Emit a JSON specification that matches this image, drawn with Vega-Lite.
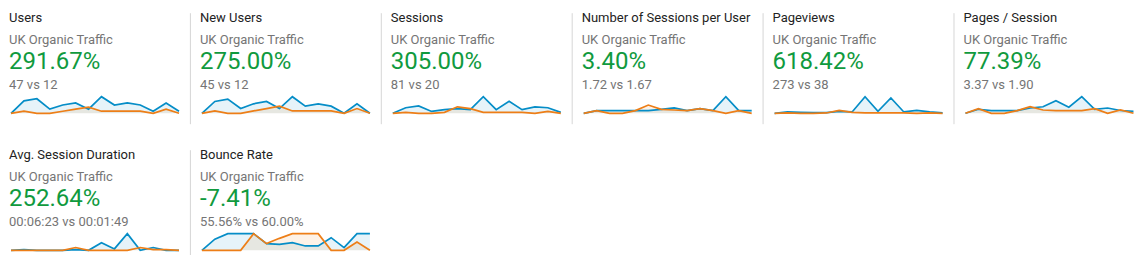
{
  "$schema": "https://vega.github.io/schema/vega-lite/v6.json",
  "background": "white",
  "padding": {"left": 7, "top": 11.7, "right": 0, "bottom": 0},
  "config": {"view": {"stroke": null}, "font": "Roboto"},
  "columns": 6,
  "spacing": {"row": 26, "column": 22.9},
  "bounds": "flush",
  "datasets": {
    "text": [
      {"card": "Users", "line": "title", "text": "Users"},
      {"card": "Users", "line": "segment", "text": "UK Organic Traffic"},
      {"card": "Users", "line": "change", "text": "291.67%"},
      {"card": "Users", "line": "comparison", "text": "47 vs 12"},
      {"card": "New Users", "line": "title", "text": "New Users"},
      {"card": "New Users", "line": "segment", "text": "UK Organic Traffic"},
      {"card": "New Users", "line": "change", "text": "275.00%"},
      {"card": "New Users", "line": "comparison", "text": "45 vs 12"},
      {"card": "Sessions", "line": "title", "text": "Sessions"},
      {"card": "Sessions", "line": "segment", "text": "UK Organic Traffic"},
      {"card": "Sessions", "line": "change", "text": "305.00%"},
      {"card": "Sessions", "line": "comparison", "text": "81 vs 20"},
      {"card": "Sessions per User", "line": "title", "text": "Number of Sessions per User"},
      {"card": "Sessions per User", "line": "segment", "text": "UK Organic Traffic"},
      {"card": "Sessions per User", "line": "change", "text": "3.40%"},
      {"card": "Sessions per User", "line": "comparison", "text": "1.72 vs 1.67"},
      {"card": "Pageviews", "line": "title", "text": "Pageviews"},
      {"card": "Pageviews", "line": "segment", "text": "UK Organic Traffic"},
      {"card": "Pageviews", "line": "change", "text": "618.42%"},
      {"card": "Pageviews", "line": "comparison", "text": "273 vs 38"},
      {"card": "Pages / Session", "line": "title", "text": "Pages / Session"},
      {"card": "Pages / Session", "line": "segment", "text": "UK Organic Traffic"},
      {"card": "Pages / Session", "line": "change", "text": "77.39%"},
      {"card": "Pages / Session", "line": "comparison", "text": "3.37 vs 1.90"},
      {"card": "Avg. Session Duration", "line": "title", "text": "Avg. Session Duration"},
      {"card": "Avg. Session Duration", "line": "segment", "text": "UK Organic Traffic"},
      {"card": "Avg. Session Duration", "line": "change", "text": "252.64%"},
      {"card": "Avg. Session Duration", "line": "comparison", "text": "00:06:23 vs 00:01:49"},
      {"card": "Bounce Rate", "line": "title", "text": "Bounce Rate"},
      {"card": "Bounce Rate", "line": "segment", "text": "UK Organic Traffic"},
      {"card": "Bounce Rate", "line": "change", "text": "-7.41%"},
      {"card": "Bounce Rate", "line": "comparison", "text": "55.56% vs 60.00%"}
    ],
    "series": [
      {"card": "Users", "day": 1, "current": 0, "previous": 0},
      {"card": "Users", "day": 2, "current": 6, "previous": 1},
      {"card": "Users", "day": 3, "current": 7, "previous": 0},
      {"card": "Users", "day": 4, "current": 2, "previous": 0},
      {"card": "Users", "day": 5, "current": 4, "previous": 1},
      {"card": "Users", "day": 6, "current": 5, "previous": 2},
      {"card": "Users", "day": 7, "current": 2, "previous": 3},
      {"card": "Users", "day": 8, "current": 8, "previous": 1},
      {"card": "Users", "day": 9, "current": 4, "previous": 1},
      {"card": "Users", "day": 10, "current": 5, "previous": 1},
      {"card": "Users", "day": 11, "current": 4, "previous": 1},
      {"card": "Users", "day": 12, "current": 1, "previous": 0},
      {"card": "Users", "day": 13, "current": 5, "previous": 2},
      {"card": "Users", "day": 14, "current": 1, "previous": 0},
      {"card": "New Users", "day": 1, "current": 0, "previous": 0},
      {"card": "New Users", "day": 2, "current": 5, "previous": 1},
      {"card": "New Users", "day": 3, "current": 6, "previous": 0},
      {"card": "New Users", "day": 4, "current": 2, "previous": 0},
      {"card": "New Users", "day": 5, "current": 4, "previous": 1},
      {"card": "New Users", "day": 6, "current": 5, "previous": 2},
      {"card": "New Users", "day": 7, "current": 2, "previous": 3},
      {"card": "New Users", "day": 8, "current": 7, "previous": 1},
      {"card": "New Users", "day": 9, "current": 3, "previous": 1},
      {"card": "New Users", "day": 10, "current": 4, "previous": 1},
      {"card": "New Users", "day": 11, "current": 3, "previous": 1},
      {"card": "New Users", "day": 12, "current": 0, "previous": 0},
      {"card": "New Users", "day": 13, "current": 4, "previous": 2},
      {"card": "New Users", "day": 14, "current": 0, "previous": 0},
      {"card": "Sessions", "day": 1, "current": 0, "previous": 0},
      {"card": "Sessions", "day": 2, "current": 6, "previous": 1},
      {"card": "Sessions", "day": 3, "current": 8, "previous": 0},
      {"card": "Sessions", "day": 4, "current": 2, "previous": 0},
      {"card": "Sessions", "day": 5, "current": 4, "previous": 1},
      {"card": "Sessions", "day": 6, "current": 5, "previous": 7},
      {"card": "Sessions", "day": 7, "current": 4, "previous": 5},
      {"card": "Sessions", "day": 8, "current": 18, "previous": 1},
      {"card": "Sessions", "day": 9, "current": 4, "previous": 1},
      {"card": "Sessions", "day": 10, "current": 13, "previous": 1},
      {"card": "Sessions", "day": 11, "current": 4, "previous": 1},
      {"card": "Sessions", "day": 12, "current": 7, "previous": 0},
      {"card": "Sessions", "day": 13, "current": 6, "previous": 2},
      {"card": "Sessions", "day": 14, "current": 1, "previous": 0},
      {"card": "Sessions per User", "day": 1, "current": 0, "previous": 0},
      {"card": "Sessions per User", "day": 2, "current": 1, "previous": 1},
      {"card": "Sessions per User", "day": 3, "current": 1, "previous": 0},
      {"card": "Sessions per User", "day": 4, "current": 1, "previous": 0},
      {"card": "Sessions per User", "day": 5, "current": 1, "previous": 1},
      {"card": "Sessions per User", "day": 6, "current": 1, "previous": 3.1},
      {"card": "Sessions per User", "day": 7, "current": 1.5, "previous": 1.5},
      {"card": "Sessions per User", "day": 8, "current": 2, "previous": 1.25},
      {"card": "Sessions per User", "day": 9, "current": 1, "previous": 1},
      {"card": "Sessions per User", "day": 10, "current": 1.75, "previous": 1.75},
      {"card": "Sessions per User", "day": 11, "current": 1, "previous": 1},
      {"card": "Sessions per User", "day": 12, "current": 6.25, "previous": 0},
      {"card": "Sessions per User", "day": 13, "current": 1, "previous": 1},
      {"card": "Sessions per User", "day": 14, "current": 1, "previous": 0},
      {"card": "Pageviews", "day": 1, "current": 0, "previous": 0},
      {"card": "Pageviews", "day": 2, "current": 8, "previous": 2},
      {"card": "Pageviews", "day": 3, "current": 6, "previous": 0},
      {"card": "Pageviews", "day": 4, "current": 4, "previous": 0},
      {"card": "Pageviews", "day": 5, "current": 4, "previous": 2},
      {"card": "Pageviews", "day": 6, "current": 12, "previous": 18},
      {"card": "Pageviews", "day": 7, "current": 8, "previous": 6},
      {"card": "Pageviews", "day": 8, "current": 100, "previous": 2},
      {"card": "Pageviews", "day": 9, "current": 12, "previous": 2},
      {"card": "Pageviews", "day": 10, "current": 92, "previous": 2},
      {"card": "Pageviews", "day": 11, "current": 8, "previous": 2},
      {"card": "Pageviews", "day": 12, "current": 18, "previous": 0},
      {"card": "Pageviews", "day": 13, "current": 8, "previous": 2},
      {"card": "Pageviews", "day": 14, "current": 2, "previous": 0},
      {"card": "Pages / Session", "day": 1, "current": 0, "previous": 0},
      {"card": "Pages / Session", "day": 2, "current": 1.6, "previous": 1.85},
      {"card": "Pages / Session", "day": 3, "current": 1.1, "previous": 0},
      {"card": "Pages / Session", "day": 4, "current": 1.1, "previous": 0},
      {"card": "Pages / Session", "day": 5, "current": 1.1, "previous": 1.06},
      {"card": "Pages / Session", "day": 6, "current": 2.1, "previous": 2.64},
      {"card": "Pages / Session", "day": 7, "current": 2.6, "previous": 1.32},
      {"card": "Pages / Session", "day": 8, "current": 5.0, "previous": 1.06},
      {"card": "Pages / Session", "day": 9, "current": 2.4, "previous": 1.06},
      {"card": "Pages / Session", "day": 10, "current": 6.6, "previous": 1.06},
      {"card": "Pages / Session", "day": 11, "current": 1.6, "previous": 1.85},
      {"card": "Pages / Session", "day": 12, "current": 2.1, "previous": 0},
      {"card": "Pages / Session", "day": 13, "current": 1.1, "previous": 1.32},
      {"card": "Pages / Session", "day": 14, "current": 0.8, "previous": 0},
      {"card": "Avg. Session Duration", "day": 1, "current": 0, "previous": 0},
      {"card": "Avg. Session Duration", "day": 2, "current": 62, "previous": 0},
      {"card": "Avg. Session Duration", "day": 3, "current": 0, "previous": 0},
      {"card": "Avg. Session Duration", "day": 4, "current": 0, "previous": 0},
      {"card": "Avg. Session Duration", "day": 5, "current": 0, "previous": 0},
      {"card": "Avg. Session Duration", "day": 6, "current": 62, "previous": 250},
      {"card": "Avg. Session Duration", "day": 7, "current": 0, "previous": 0},
      {"card": "Avg. Session Duration", "day": 8, "current": 686, "previous": 0},
      {"card": "Avg. Session Duration", "day": 9, "current": 125, "previous": 0},
      {"card": "Avg. Session Duration", "day": 10, "current": 1498, "previous": 0},
      {"card": "Avg. Session Duration", "day": 11, "current": 0, "previous": 250},
      {"card": "Avg. Session Duration", "day": 12, "current": 250, "previous": 62},
      {"card": "Avg. Session Duration", "day": 13, "current": 0, "previous": 62},
      {"card": "Avg. Session Duration", "day": 14, "current": 0, "previous": 0},
      {"card": "Bounce Rate", "day": 1, "current": 0, "previous": 0},
      {"card": "Bounce Rate", "day": 2, "current": 66.67, "previous": 0},
      {"card": "Bounce Rate", "day": 3, "current": 100, "previous": 0},
      {"card": "Bounce Rate", "day": 4, "current": 100, "previous": 0},
      {"card": "Bounce Rate", "day": 5, "current": 100, "previous": 100},
      {"card": "Bounce Rate", "day": 6, "current": 40, "previous": 40},
      {"card": "Bounce Rate", "day": 7, "current": 36, "previous": 72},
      {"card": "Bounce Rate", "day": 8, "current": 46, "previous": 100},
      {"card": "Bounce Rate", "day": 9, "current": 26, "previous": 100},
      {"card": "Bounce Rate", "day": 10, "current": 26, "previous": 100},
      {"card": "Bounce Rate", "day": 11, "current": 76, "previous": 0},
      {"card": "Bounce Rate", "day": 12, "current": 16, "previous": 0},
      {"card": "Bounce Rate", "day": 13, "current": 100, "previous": 50},
      {"card": "Bounce Rate", "day": 14, "current": 100, "previous": 0}
    ]
  },
  "concat": [
    {
      "width": 168, "height": 111,
      "layer": [
        {
          "data": {"name": "text"},
          "transform": [{"filter": {"field": "card", "equal": "Users"}}],
          "layer": [
            {
              "transform": [{"filter": {"field": "line", "oneOf": ["title", "segment", "comparison"]}}],
              "mark": {"type": "text", "align": "left", "baseline": "alphabetic", "dx": -2, "fontSize": 13},
              "encoding": {
                "x": {"datum": 1, "type": "quantitative", "scale": {"domain": [1, 14], "nice": false, "zero": false}, "axis": null},
                "y": {"field": "line", "type": "nominal", "scale": {"domain": ["title", "segment", "change", "comparison"], "padding": 1.0899, "align": 0.2141, "round": false}, "axis": null},
                "text": {"field": "text"},
                "color": {"field": "line", "type": "nominal", "scale": {"domain": ["title", "segment", "comparison"], "range": ["#222222", "#757575", "#757575"]}, "legend": null}
              }
            },
            {
              "transform": [{"filter": {"field": "line", "equal": "change"}}],
              "mark": {"type": "text", "align": "left", "baseline": "alphabetic", "dx": -2, "dy": 2.1, "fontSize": 24, "color": "#109a3e"},
              "encoding": {
                "x": {"datum": 1, "type": "quantitative", "scale": {"domain": [1, 14], "nice": false, "zero": false}, "axis": null},
                "y": {"field": "line", "type": "nominal", "axis": null},
                "text": {"field": "text"}
              }
            }
          ]
        },
        {
          "data": {"name": "series"},
          "transform": [{"filter": {"field": "card", "equal": "Users"}}],
          "encoding": {"x": {"field": "day", "type": "quantitative", "scale": {"domain": [1, 14], "nice": false, "zero": false}, "axis": null}},
          "layer": [
            {"mark": {"type": "area", "color": "#058dc7", "opacity": 0.1}, "encoding": {"y": {"field": "current", "type": "quantitative", "scale": {"range": [100.6, 84], "nice": false, "zero": true}, "axis": null}}},
            {"mark": {"type": "area", "color": "#ed7e17", "opacity": 0.1}, "encoding": {"y": {"field": "previous", "type": "quantitative", "axis": null}}},
            {"mark": {"type": "line", "color": "#058dc7", "strokeWidth": 1.7}, "encoding": {"y": {"field": "current", "type": "quantitative", "axis": null}}},
            {"mark": {"type": "line", "color": "#ed7e17", "strokeWidth": 1.7}, "encoding": {"y": {"field": "previous", "type": "quantitative", "axis": null}}}
          ]
        }
      ],
      "resolve": {"scale": {"y": "independent", "color": "independent"}, "axis": {"y": "independent"}}
    },
    {
      "width": 168, "height": 111,
      "layer": [
        {
          "data": {"name": "text"},
          "transform": [{"filter": {"field": "card", "equal": "New Users"}}],
          "layer": [
            {
              "transform": [{"filter": {"field": "line", "oneOf": ["title", "segment", "comparison"]}}],
              "mark": {"type": "text", "align": "left", "baseline": "alphabetic", "dx": -2, "fontSize": 13},
              "encoding": {
                "x": {"datum": 1, "type": "quantitative", "scale": {"domain": [1, 14], "nice": false, "zero": false}, "axis": null},
                "y": {"field": "line", "type": "nominal", "scale": {"domain": ["title", "segment", "change", "comparison"], "padding": 1.0899, "align": 0.2141, "round": false}, "axis": {"domain": true, "domainColor": "#d6d6d6", "domainWidth": 1, "ticks": false, "labels": false, "grid": false, "title": null, "offset": 12}},
                "text": {"field": "text"},
                "color": {"field": "line", "type": "nominal", "scale": {"domain": ["title", "segment", "comparison"], "range": ["#222222", "#757575", "#757575"]}, "legend": null}
              }
            },
            {
              "transform": [{"filter": {"field": "line", "equal": "change"}}],
              "mark": {"type": "text", "align": "left", "baseline": "alphabetic", "dx": -2, "dy": 2.1, "fontSize": 24, "color": "#109a3e"},
              "encoding": {
                "x": {"datum": 1, "type": "quantitative", "scale": {"domain": [1, 14], "nice": false, "zero": false}, "axis": null},
                "y": {"field": "line", "type": "nominal", "axis": {"domain": true, "domainColor": "#d6d6d6", "domainWidth": 1, "ticks": false, "labels": false, "grid": false, "title": null, "offset": 12}},
                "text": {"field": "text"}
              }
            }
          ]
        },
        {
          "data": {"name": "series"},
          "transform": [{"filter": {"field": "card", "equal": "New Users"}}],
          "encoding": {"x": {"field": "day", "type": "quantitative", "scale": {"domain": [1, 14], "nice": false, "zero": false}, "axis": null}},
          "layer": [
            {"mark": {"type": "area", "color": "#058dc7", "opacity": 0.1}, "encoding": {"y": {"field": "current", "type": "quantitative", "scale": {"range": [100.6, 84], "nice": false, "zero": true}, "axis": null}}},
            {"mark": {"type": "area", "color": "#ed7e17", "opacity": 0.1}, "encoding": {"y": {"field": "previous", "type": "quantitative", "axis": null}}},
            {"mark": {"type": "line", "color": "#058dc7", "strokeWidth": 1.7}, "encoding": {"y": {"field": "current", "type": "quantitative", "axis": null}}},
            {"mark": {"type": "line", "color": "#ed7e17", "strokeWidth": 1.7}, "encoding": {"y": {"field": "previous", "type": "quantitative", "axis": null}}}
          ]
        }
      ],
      "resolve": {"scale": {"y": "independent", "color": "independent"}, "axis": {"y": "independent"}}
    },
    {
      "width": 168, "height": 111,
      "layer": [
        {
          "data": {"name": "text"},
          "transform": [{"filter": {"field": "card", "equal": "Sessions"}}],
          "layer": [
            {
              "transform": [{"filter": {"field": "line", "oneOf": ["title", "segment", "comparison"]}}],
              "mark": {"type": "text", "align": "left", "baseline": "alphabetic", "dx": -2, "fontSize": 13},
              "encoding": {
                "x": {"datum": 1, "type": "quantitative", "scale": {"domain": [1, 14], "nice": false, "zero": false}, "axis": null},
                "y": {"field": "line", "type": "nominal", "scale": {"domain": ["title", "segment", "change", "comparison"], "padding": 1.0899, "align": 0.2141, "round": false}, "axis": {"domain": true, "domainColor": "#d6d6d6", "domainWidth": 1, "ticks": false, "labels": false, "grid": false, "title": null, "offset": 12}},
                "text": {"field": "text"},
                "color": {"field": "line", "type": "nominal", "scale": {"domain": ["title", "segment", "comparison"], "range": ["#222222", "#757575", "#757575"]}, "legend": null}
              }
            },
            {
              "transform": [{"filter": {"field": "line", "equal": "change"}}],
              "mark": {"type": "text", "align": "left", "baseline": "alphabetic", "dx": -2, "dy": 2.1, "fontSize": 24, "color": "#109a3e"},
              "encoding": {
                "x": {"datum": 1, "type": "quantitative", "scale": {"domain": [1, 14], "nice": false, "zero": false}, "axis": null},
                "y": {"field": "line", "type": "nominal", "axis": {"domain": true, "domainColor": "#d6d6d6", "domainWidth": 1, "ticks": false, "labels": false, "grid": false, "title": null, "offset": 12}},
                "text": {"field": "text"}
              }
            }
          ]
        },
        {
          "data": {"name": "series"},
          "transform": [{"filter": {"field": "card", "equal": "Sessions"}}],
          "encoding": {"x": {"field": "day", "type": "quantitative", "scale": {"domain": [1, 14], "nice": false, "zero": false}, "axis": null}},
          "layer": [
            {"mark": {"type": "area", "color": "#058dc7", "opacity": 0.1}, "encoding": {"y": {"field": "current", "type": "quantitative", "scale": {"range": [100.6, 84], "nice": false, "zero": true}, "axis": null}}},
            {"mark": {"type": "area", "color": "#ed7e17", "opacity": 0.1}, "encoding": {"y": {"field": "previous", "type": "quantitative", "axis": null}}},
            {"mark": {"type": "line", "color": "#058dc7", "strokeWidth": 1.7}, "encoding": {"y": {"field": "current", "type": "quantitative", "axis": null}}},
            {"mark": {"type": "line", "color": "#ed7e17", "strokeWidth": 1.7}, "encoding": {"y": {"field": "previous", "type": "quantitative", "axis": null}}}
          ]
        }
      ],
      "resolve": {"scale": {"y": "independent", "color": "independent"}, "axis": {"y": "independent"}}
    },
    {
      "width": 168, "height": 111,
      "layer": [
        {
          "data": {"name": "text"},
          "transform": [{"filter": {"field": "card", "equal": "Sessions per User"}}],
          "layer": [
            {
              "transform": [{"filter": {"field": "line", "oneOf": ["title", "segment", "comparison"]}}],
              "mark": {"type": "text", "align": "left", "baseline": "alphabetic", "dx": -2, "fontSize": 13},
              "encoding": {
                "x": {"datum": 1, "type": "quantitative", "scale": {"domain": [1, 14], "nice": false, "zero": false}, "axis": null},
                "y": {"field": "line", "type": "nominal", "scale": {"domain": ["title", "segment", "change", "comparison"], "padding": 1.0899, "align": 0.2141, "round": false}, "axis": {"domain": true, "domainColor": "#d6d6d6", "domainWidth": 1, "ticks": false, "labels": false, "grid": false, "title": null, "offset": 12}},
                "text": {"field": "text"},
                "color": {"field": "line", "type": "nominal", "scale": {"domain": ["title", "segment", "comparison"], "range": ["#222222", "#757575", "#757575"]}, "legend": null}
              }
            },
            {
              "transform": [{"filter": {"field": "line", "equal": "change"}}],
              "mark": {"type": "text", "align": "left", "baseline": "alphabetic", "dx": -2, "dy": 2.1, "fontSize": 24, "color": "#109a3e"},
              "encoding": {
                "x": {"datum": 1, "type": "quantitative", "scale": {"domain": [1, 14], "nice": false, "zero": false}, "axis": null},
                "y": {"field": "line", "type": "nominal", "axis": {"domain": true, "domainColor": "#d6d6d6", "domainWidth": 1, "ticks": false, "labels": false, "grid": false, "title": null, "offset": 12}},
                "text": {"field": "text"}
              }
            }
          ]
        },
        {
          "data": {"name": "series"},
          "transform": [{"filter": {"field": "card", "equal": "Sessions per User"}}],
          "encoding": {"x": {"field": "day", "type": "quantitative", "scale": {"domain": [1, 14], "nice": false, "zero": false}, "axis": null}},
          "layer": [
            {"mark": {"type": "area", "color": "#058dc7", "opacity": 0.1}, "encoding": {"y": {"field": "current", "type": "quantitative", "scale": {"range": [100.6, 84], "nice": false, "zero": true}, "axis": null}}},
            {"mark": {"type": "area", "color": "#ed7e17", "opacity": 0.1}, "encoding": {"y": {"field": "previous", "type": "quantitative", "axis": null}}},
            {"mark": {"type": "line", "color": "#058dc7", "strokeWidth": 1.7}, "encoding": {"y": {"field": "current", "type": "quantitative", "axis": null}}},
            {"mark": {"type": "line", "color": "#ed7e17", "strokeWidth": 1.7}, "encoding": {"y": {"field": "previous", "type": "quantitative", "axis": null}}}
          ]
        }
      ],
      "resolve": {"scale": {"y": "independent", "color": "independent"}, "axis": {"y": "independent"}}
    },
    {
      "width": 168, "height": 111,
      "layer": [
        {
          "data": {"name": "text"},
          "transform": [{"filter": {"field": "card", "equal": "Pageviews"}}],
          "layer": [
            {
              "transform": [{"filter": {"field": "line", "oneOf": ["title", "segment", "comparison"]}}],
              "mark": {"type": "text", "align": "left", "baseline": "alphabetic", "dx": -2, "fontSize": 13},
              "encoding": {
                "x": {"datum": 1, "type": "quantitative", "scale": {"domain": [1, 14], "nice": false, "zero": false}, "axis": null},
                "y": {"field": "line", "type": "nominal", "scale": {"domain": ["title", "segment", "change", "comparison"], "padding": 1.0899, "align": 0.2141, "round": false}, "axis": {"domain": true, "domainColor": "#d6d6d6", "domainWidth": 1, "ticks": false, "labels": false, "grid": false, "title": null, "offset": 12}},
                "text": {"field": "text"},
                "color": {"field": "line", "type": "nominal", "scale": {"domain": ["title", "segment", "comparison"], "range": ["#222222", "#757575", "#757575"]}, "legend": null}
              }
            },
            {
              "transform": [{"filter": {"field": "line", "equal": "change"}}],
              "mark": {"type": "text", "align": "left", "baseline": "alphabetic", "dx": -2, "dy": 2.1, "fontSize": 24, "color": "#109a3e"},
              "encoding": {
                "x": {"datum": 1, "type": "quantitative", "scale": {"domain": [1, 14], "nice": false, "zero": false}, "axis": null},
                "y": {"field": "line", "type": "nominal", "axis": {"domain": true, "domainColor": "#d6d6d6", "domainWidth": 1, "ticks": false, "labels": false, "grid": false, "title": null, "offset": 12}},
                "text": {"field": "text"}
              }
            }
          ]
        },
        {
          "data": {"name": "series"},
          "transform": [{"filter": {"field": "card", "equal": "Pageviews"}}],
          "encoding": {"x": {"field": "day", "type": "quantitative", "scale": {"domain": [1, 14], "nice": false, "zero": false}, "axis": null}},
          "layer": [
            {"mark": {"type": "area", "color": "#058dc7", "opacity": 0.1}, "encoding": {"y": {"field": "current", "type": "quantitative", "scale": {"range": [100.6, 84], "nice": false, "zero": true}, "axis": null}}},
            {"mark": {"type": "area", "color": "#ed7e17", "opacity": 0.1}, "encoding": {"y": {"field": "previous", "type": "quantitative", "axis": null}}},
            {"mark": {"type": "line", "color": "#058dc7", "strokeWidth": 1.7}, "encoding": {"y": {"field": "current", "type": "quantitative", "axis": null}}},
            {"mark": {"type": "line", "color": "#ed7e17", "strokeWidth": 1.7}, "encoding": {"y": {"field": "previous", "type": "quantitative", "axis": null}}}
          ]
        }
      ],
      "resolve": {"scale": {"y": "independent", "color": "independent"}, "axis": {"y": "independent"}}
    },
    {
      "width": 168, "height": 111,
      "layer": [
        {
          "data": {"name": "text"},
          "transform": [{"filter": {"field": "card", "equal": "Pages / Session"}}],
          "layer": [
            {
              "transform": [{"filter": {"field": "line", "oneOf": ["title", "segment", "comparison"]}}],
              "mark": {"type": "text", "align": "left", "baseline": "alphabetic", "dx": -2, "fontSize": 13},
              "encoding": {
                "x": {"datum": 1, "type": "quantitative", "scale": {"domain": [1, 14], "nice": false, "zero": false}, "axis": null},
                "y": {"field": "line", "type": "nominal", "scale": {"domain": ["title", "segment", "change", "comparison"], "padding": 1.0899, "align": 0.2141, "round": false}, "axis": {"domain": true, "domainColor": "#d6d6d6", "domainWidth": 1, "ticks": false, "labels": false, "grid": false, "title": null, "offset": 12}},
                "text": {"field": "text"},
                "color": {"field": "line", "type": "nominal", "scale": {"domain": ["title", "segment", "comparison"], "range": ["#222222", "#757575", "#757575"]}, "legend": null}
              }
            },
            {
              "transform": [{"filter": {"field": "line", "equal": "change"}}],
              "mark": {"type": "text", "align": "left", "baseline": "alphabetic", "dx": -2, "dy": 2.1, "fontSize": 24, "color": "#109a3e"},
              "encoding": {
                "x": {"datum": 1, "type": "quantitative", "scale": {"domain": [1, 14], "nice": false, "zero": false}, "axis": null},
                "y": {"field": "line", "type": "nominal", "axis": {"domain": true, "domainColor": "#d6d6d6", "domainWidth": 1, "ticks": false, "labels": false, "grid": false, "title": null, "offset": 12}},
                "text": {"field": "text"}
              }
            }
          ]
        },
        {
          "data": {"name": "series"},
          "transform": [{"filter": {"field": "card", "equal": "Pages / Session"}}],
          "encoding": {"x": {"field": "day", "type": "quantitative", "scale": {"domain": [1, 14], "nice": false, "zero": false}, "axis": null}},
          "layer": [
            {"mark": {"type": "area", "color": "#058dc7", "opacity": 0.1}, "encoding": {"y": {"field": "current", "type": "quantitative", "scale": {"range": [100.6, 84], "nice": false, "zero": true}, "axis": null}}},
            {"mark": {"type": "area", "color": "#ed7e17", "opacity": 0.1}, "encoding": {"y": {"field": "previous", "type": "quantitative", "axis": null}}},
            {"mark": {"type": "line", "color": "#058dc7", "strokeWidth": 1.7}, "encoding": {"y": {"field": "current", "type": "quantitative", "axis": null}}},
            {"mark": {"type": "line", "color": "#ed7e17", "strokeWidth": 1.7}, "encoding": {"y": {"field": "previous", "type": "quantitative", "axis": null}}}
          ]
        }
      ],
      "resolve": {"scale": {"y": "independent", "color": "independent"}, "axis": {"y": "independent"}}
    },
    {
      "width": 168, "height": 111,
      "layer": [
        {
          "data": {"name": "text"},
          "transform": [{"filter": {"field": "card", "equal": "Avg. Session Duration"}}],
          "layer": [
            {
              "transform": [{"filter": {"field": "line", "oneOf": ["title", "segment", "comparison"]}}],
              "mark": {"type": "text", "align": "left", "baseline": "alphabetic", "dx": -2, "fontSize": 13},
              "encoding": {
                "x": {"datum": 1, "type": "quantitative", "scale": {"domain": [1, 14], "nice": false, "zero": false}, "axis": null},
                "y": {"field": "line", "type": "nominal", "scale": {"domain": ["title", "segment", "change", "comparison"], "padding": 1.0899, "align": 0.2141, "round": false}, "axis": null},
                "text": {"field": "text"},
                "color": {"field": "line", "type": "nominal", "scale": {"domain": ["title", "segment", "comparison"], "range": ["#222222", "#757575", "#757575"]}, "legend": null}
              }
            },
            {
              "transform": [{"filter": {"field": "line", "equal": "change"}}],
              "mark": {"type": "text", "align": "left", "baseline": "alphabetic", "dx": -2, "dy": 2.1, "fontSize": 24, "color": "#109a3e"},
              "encoding": {
                "x": {"datum": 1, "type": "quantitative", "scale": {"domain": [1, 14], "nice": false, "zero": false}, "axis": null},
                "y": {"field": "line", "type": "nominal", "axis": null},
                "text": {"field": "text"}
              }
            }
          ]
        },
        {
          "data": {"name": "series"},
          "transform": [{"filter": {"field": "card", "equal": "Avg. Session Duration"}}],
          "encoding": {"x": {"field": "day", "type": "quantitative", "scale": {"domain": [1, 14], "nice": false, "zero": false}, "axis": null}},
          "layer": [
            {"mark": {"type": "area", "color": "#058dc7", "opacity": 0.1}, "encoding": {"y": {"field": "current", "type": "quantitative", "scale": {"range": [100.6, 84], "nice": false, "zero": true}, "axis": null}}},
            {"mark": {"type": "area", "color": "#ed7e17", "opacity": 0.1}, "encoding": {"y": {"field": "previous", "type": "quantitative", "axis": null}}},
            {"mark": {"type": "line", "color": "#058dc7", "strokeWidth": 1.7}, "encoding": {"y": {"field": "current", "type": "quantitative", "axis": null}}},
            {"mark": {"type": "line", "color": "#ed7e17", "strokeWidth": 1.7}, "encoding": {"y": {"field": "previous", "type": "quantitative", "axis": null}}}
          ]
        }
      ],
      "resolve": {"scale": {"y": "independent", "color": "independent"}, "axis": {"y": "independent"}}
    },
    {
      "width": 168, "height": 111,
      "layer": [
        {
          "data": {"name": "text"},
          "transform": [{"filter": {"field": "card", "equal": "Bounce Rate"}}],
          "layer": [
            {
              "transform": [{"filter": {"field": "line", "oneOf": ["title", "segment", "comparison"]}}],
              "mark": {"type": "text", "align": "left", "baseline": "alphabetic", "dx": -2, "fontSize": 13},
              "encoding": {
                "x": {"datum": 1, "type": "quantitative", "scale": {"domain": [1, 14], "nice": false, "zero": false}, "axis": null},
                "y": {"field": "line", "type": "nominal", "scale": {"domain": ["title", "segment", "change", "comparison"], "padding": 1.0899, "align": 0.2141, "round": false}, "axis": {"domain": true, "domainColor": "#d6d6d6", "domainWidth": 1, "ticks": false, "labels": false, "grid": false, "title": null, "offset": 12}},
                "text": {"field": "text"},
                "color": {"field": "line", "type": "nominal", "scale": {"domain": ["title", "segment", "comparison"], "range": ["#222222", "#757575", "#757575"]}, "legend": null}
              }
            },
            {
              "transform": [{"filter": {"field": "line", "equal": "change"}}],
              "mark": {"type": "text", "align": "left", "baseline": "alphabetic", "dx": -2, "dy": 2.1, "fontSize": 24, "color": "#109a3e"},
              "encoding": {
                "x": {"datum": 1, "type": "quantitative", "scale": {"domain": [1, 14], "nice": false, "zero": false}, "axis": null},
                "y": {"field": "line", "type": "nominal", "axis": {"domain": true, "domainColor": "#d6d6d6", "domainWidth": 1, "ticks": false, "labels": false, "grid": false, "title": null, "offset": 12}},
                "text": {"field": "text"}
              }
            }
          ]
        },
        {
          "data": {"name": "series"},
          "transform": [{"filter": {"field": "card", "equal": "Bounce Rate"}}],
          "encoding": {"x": {"field": "day", "type": "quantitative", "scale": {"domain": [1, 14], "nice": false, "zero": false}, "axis": null}},
          "layer": [
            {"mark": {"type": "area", "color": "#058dc7", "opacity": 0.1}, "encoding": {"y": {"field": "current", "type": "quantitative", "scale": {"range": [100.6, 84], "nice": false, "zero": true}, "axis": null}}},
            {"mark": {"type": "area", "color": "#ed7e17", "opacity": 0.1}, "encoding": {"y": {"field": "previous", "type": "quantitative", "axis": null}}},
            {"mark": {"type": "line", "color": "#058dc7", "strokeWidth": 1.7}, "encoding": {"y": {"field": "current", "type": "quantitative", "axis": null}}},
            {"mark": {"type": "line", "color": "#ed7e17", "strokeWidth": 1.7}, "encoding": {"y": {"field": "previous", "type": "quantitative", "axis": null}}}
          ]
        }
      ],
      "resolve": {"scale": {"y": "independent", "color": "independent"}, "axis": {"y": "independent"}}
    }
  ]
}
